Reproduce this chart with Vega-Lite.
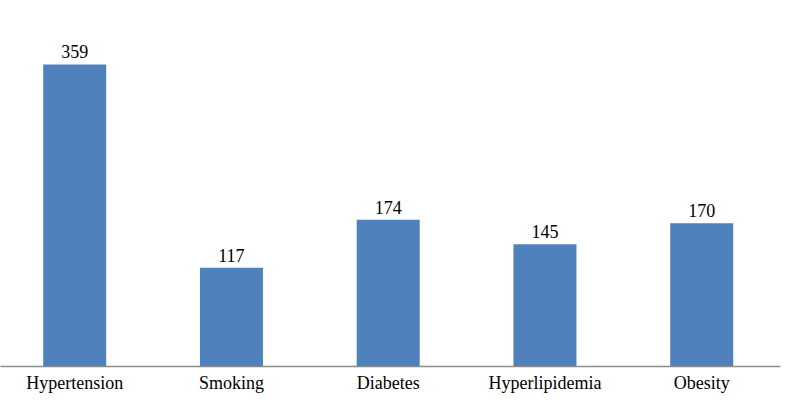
{
  "$schema": "https://vega.github.io/schema/vega-lite/v6.json",
  "width": 780,
  "height": 336,
  "autosize": {"type": "none"},
  "padding": {"left": 0, "top": 30, "right": 20, "bottom": 36},
  "background": "white",
  "config": {"view": {"stroke": null}, "font": "Liberation Serif"},
  "data": {"values": [
    {"factor": "Hypertension", "count": 359},
    {"factor": "Smoking", "count": 117},
    {"factor": "Diabetes", "count": 174},
    {"factor": "Hyperlipidemia", "count": 145},
    {"factor": "Obesity", "count": 170}
  ]},
  "encoding": {
    "x": {"field": "factor", "type": "nominal", "sort": null,
      "scale": {"paddingInner": 0.598, "paddingOuter": 0.287, "align": 0.48},
      "axis": {"title": null, "labelAngle": 0, "labelFont": "Liberation Serif", "labelFontSize": 18, "labelColor": "#000000", "labelPadding": 8, "ticks": false, "domainColor": "#8c8c8c", "domainWidth": 1.5, "grid": false}},
    "y": {"field": "count", "type": "quantitative", "scale": {"domain": [0, 400]}, "axis": null}
  },
  "layer": [
    {"mark": {"type": "bar", "color": "#4F81BD"}},
    {"mark": {"type": "text", "font": "Liberation Serif", "fontSize": 18, "baseline": "alphabetic", "dy": -6, "color": "#000000"},
     "encoding": {"text": {"field": "count", "type": "quantitative"}}}
  ]
}
